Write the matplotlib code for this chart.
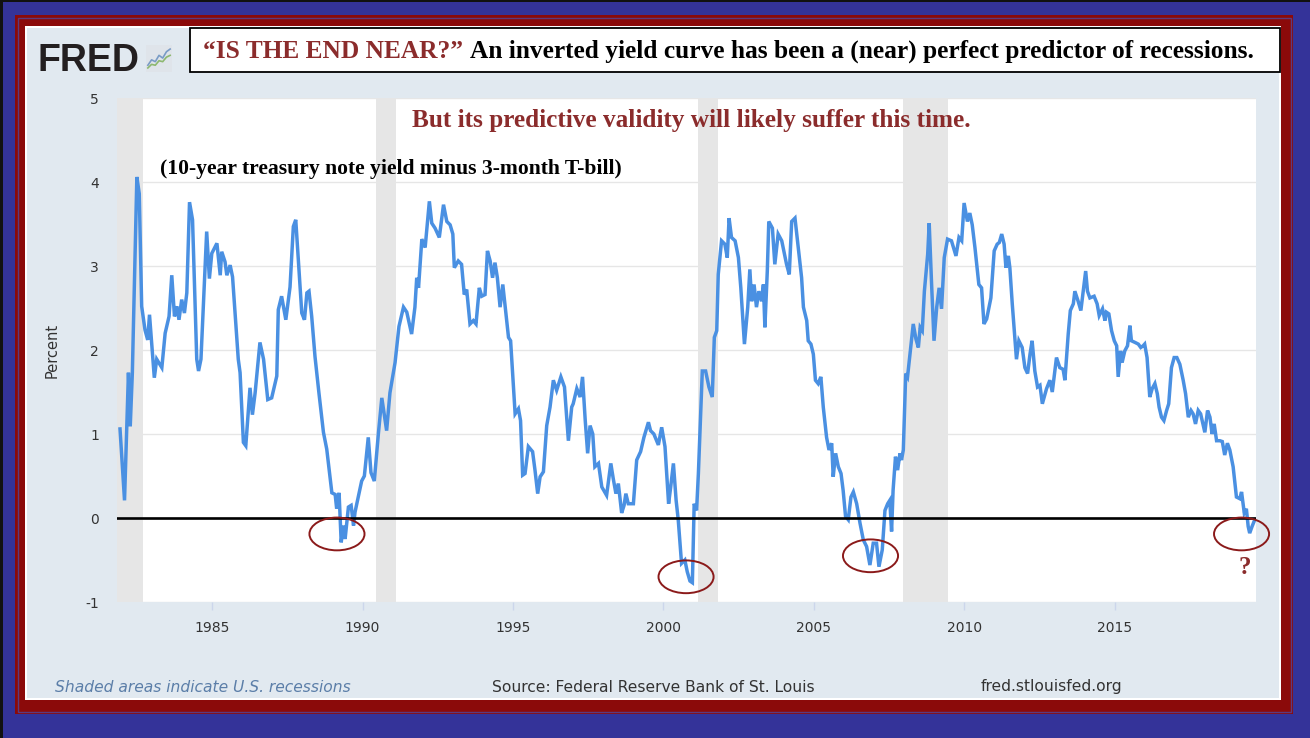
import matplotlib
matplotlib.use("Agg")
import matplotlib.pyplot as plt
from matplotlib.patches import Rectangle, Ellipse

# 10-year treasury minus 3-month T-bill (decimal year, percent)
dates = [
    1981.94, 1982.09, 1982.22, 1982.28, 1982.35, 1982.50, 1982.58, 1982.66, 1982.77, 1982.86,
    1982.92, 1983.08, 1983.16, 1983.33, 1983.44, 1983.57, 1983.66, 1983.75, 1983.83, 1983.90,
    1983.99, 1984.08, 1984.16, 1984.25, 1984.35, 1984.49, 1984.55, 1984.63, 1984.82, 1984.91,
    1984.99, 1985.16, 1985.27, 1985.32, 1985.43, 1985.49, 1985.60, 1985.68, 1985.87, 1985.93,
    1986.04, 1986.12, 1986.26, 1986.34, 1986.43, 1986.59, 1986.71, 1986.85, 1986.98, 1987.15,
    1987.20, 1987.31, 1987.45, 1987.59, 1987.70, 1987.78, 1987.83, 1987.98, 1988.07, 1988.15,
    1988.22, 1988.31, 1988.42, 1988.55, 1988.70, 1988.81, 1988.98, 1989.09, 1989.14, 1989.22,
    1989.29, 1989.36, 1989.42, 1989.53, 1989.62, 1989.70, 1989.75, 1989.97, 1990.06, 1990.19,
    1990.28, 1990.39, 1990.53, 1990.64, 1990.80, 1990.91, 1991.08, 1991.21,
    1991.36, 1991.47, 1991.63, 1991.74, 1991.80, 1991.86, 1991.97, 1992.08, 1992.22, 1992.30,
    1992.41, 1992.55, 1992.69, 1992.80, 1992.91, 1993.00, 1993.05, 1993.18, 1993.29, 1993.38,
    1993.46, 1993.57, 1993.68, 1993.77, 1993.88, 1993.96, 1994.07, 1994.15, 1994.24, 1994.32,
    1994.40, 1994.48, 1994.57, 1994.66, 1994.73, 1994.85, 1994.92, 1995.07, 1995.18, 1995.25,
    1995.32, 1995.40, 1995.51, 1995.65, 1995.73, 1995.82, 1995.90, 1996.01, 1996.12, 1996.23,
    1996.34, 1996.45, 1996.59, 1996.71, 1996.84, 1996.95, 1997.00, 1997.12, 1997.23, 1997.31,
    1997.40, 1997.48, 1997.56, 1997.65, 1997.72, 1997.84, 1997.95, 1998.11, 1998.25, 1998.33,
    1998.42, 1998.50, 1998.61, 1998.69, 1998.75, 1998.83, 1999.00, 1999.11, 1999.24, 1999.35,
    1999.50, 1999.57, 1999.68, 1999.83, 1999.94, 2000.05, 2000.17, 2000.24, 2000.33, 2000.42,
    2000.49, 2000.60, 2000.71, 2000.79, 2000.88,
    2000.96, 2001.02, 2001.10, 2001.16, 2001.29, 2001.40, 2001.51, 2001.62, 2001.69, 2001.77,
    2001.82, 2001.93, 2002.04, 2002.12, 2002.18, 2002.26, 2002.38, 2002.49, 2002.57, 2002.69,
    2002.80, 2002.87, 2002.93, 2003.01, 2003.09, 2003.17, 2003.26, 2003.32, 2003.37, 2003.45,
    2003.50, 2003.62, 2003.70, 2003.81, 2003.93, 2004.09, 2004.18, 2004.26, 2004.37, 2004.48,
    2004.59, 2004.65, 2004.76, 2004.81, 2004.90, 2004.98, 2005.05, 2005.14, 2005.23, 2005.31,
    2005.42, 2005.50, 2005.59, 2005.64, 2005.72, 2005.81, 2005.90, 2005.97, 2006.05, 2006.14,
    2006.23, 2006.31, 2006.42, 2006.53, 2006.64, 2006.75, 2006.86, 2006.97, 2007.08, 2007.16,
    2007.27, 2007.36, 2007.45, 2007.52, 2007.58, 2007.63, 2007.71, 2007.78, 2007.86, 2007.91,
    2007.97, 2008.05, 2008.11, 2008.24, 2008.30, 2008.39, 2008.47, 2008.53, 2008.60, 2008.67,
    2008.78, 2008.83, 2008.91, 2008.99, 2009.08, 2009.16, 2009.24, 2009.33, 2009.44, 2009.57,
    2009.72, 2009.82, 2009.91, 2009.99,
    2010.10, 2010.18, 2010.26, 2010.35, 2010.48, 2010.57, 2010.65, 2010.74, 2010.88, 2010.99,
    2011.09, 2011.16, 2011.24, 2011.32, 2011.38, 2011.46, 2011.51, 2011.59, 2011.73, 2011.81,
    2011.92, 2012.01, 2012.10, 2012.18, 2012.25, 2012.34, 2012.43, 2012.51, 2012.59, 2012.73,
    2012.84, 2012.92, 2013.06, 2013.17, 2013.28, 2013.34, 2013.45, 2013.52, 2013.62, 2013.67,
    2013.78, 2013.87, 2013.95, 2014.03, 2014.09, 2014.17, 2014.31, 2014.41, 2014.48, 2014.59,
    2014.67, 2014.72, 2014.80, 2014.89, 2014.98, 2015.06, 2015.11, 2015.19, 2015.24, 2015.33,
    2015.42, 2015.50, 2015.55, 2015.67, 2015.78, 2015.86, 2015.94, 2015.99, 2016.07, 2016.16,
    2016.24, 2016.33, 2016.41, 2016.47, 2016.55, 2016.63, 2016.72, 2016.79, 2016.88, 2016.97,
    2017.06, 2017.16, 2017.27, 2017.35, 2017.44, 2017.53, 2017.60, 2017.68, 2017.77, 2017.85,
    2017.90, 2017.99, 2018.08, 2018.16, 2018.23, 2018.30, 2018.38, 2018.49, 2018.57, 2018.65,
    2018.74, 2018.82, 2018.93, 2019.04, 2019.15, 2019.21, 2019.30, 2019.37, 2019.43, 2019.48,
    2019.56, 2019.65,
]
spread = [
    1.06, 0.21, 1.73, 1.09, 1.73, 4.06, 3.86, 2.52, 2.24, 2.12,
    2.42, 1.67, 1.89, 1.79, 2.20, 2.40, 2.89, 2.40, 2.52, 2.36,
    2.60, 2.44, 2.68, 3.76, 3.55, 1.89, 1.75, 1.89, 3.41, 2.85,
    3.15, 3.27, 2.89, 3.17, 3.05, 2.89, 3.01, 2.87, 1.89, 1.73,
    0.90, 0.86, 1.55, 1.23, 1.49, 2.09, 1.89, 1.41, 1.43, 1.69,
    2.48, 2.64, 2.36, 2.75, 3.47, 3.55, 3.27, 2.44, 2.36, 2.68,
    2.70, 2.40, 1.92, 1.49, 1.02, 0.82, 0.30, 0.28, 0.11, 0.30,
    -0.29, -0.09, -0.25, 0.13, 0.15, -0.09, 0.07, 0.44, 0.50, 0.96,
    0.54, 0.44, 1.02, 1.43, 1.04, 1.49, 1.85, 2.28,
    2.51, 2.45, 2.19, 2.51, 2.86, 2.74, 3.32, 3.22, 3.77, 3.51,
    3.45, 3.34, 3.73, 3.53, 3.49, 3.38, 2.98, 3.06, 3.02, 2.66,
    2.72, 2.31, 2.35, 2.31, 2.74, 2.64, 2.66, 3.18, 3.06, 2.86,
    3.04, 2.86, 2.51, 2.78, 2.55, 2.15, 2.11, 1.24, 1.30, 1.16,
    0.51, 0.53, 0.85, 0.79, 0.57, 0.29, 0.49, 0.55, 1.10, 1.32,
    1.64, 1.52, 1.68, 1.56, 0.92, 1.32, 1.36, 1.54, 1.44, 1.68,
    1.16, 0.77, 1.10, 1.00, 0.61, 0.65, 0.37, 0.27, 0.65, 0.47,
    0.29, 0.41, 0.06, 0.15, 0.29, 0.17, 0.17, 0.69, 0.79, 0.96,
    1.14, 1.04, 1.00, 0.87, 1.08, 0.85, 0.17, 0.37, 0.65, 0.21,
    -0.02, -0.54, -0.50, -0.64, -0.75,
    -0.77, 0.17, 0.09, 0.53, 1.75, 1.75, 1.56, 1.44, 2.15, 2.23,
    2.90, 3.30, 3.26, 3.10, 3.57, 3.34, 3.30, 3.10, 2.74, 2.07,
    2.51, 2.96, 2.58, 2.78, 2.51, 2.70, 2.58, 2.78, 2.27, 2.94,
    3.53, 3.45, 3.02, 3.38, 3.30, 3.02, 2.90, 3.53, 3.57, 3.22,
    2.86, 2.51, 2.35, 2.11, 2.07, 1.95, 1.64, 1.60, 1.68, 1.32,
    0.96, 0.81, 0.89, 0.49, 0.77, 0.61, 0.53, 0.33, 0.02, -0.02,
    0.25, 0.31, 0.17, -0.06, -0.26, -0.34, -0.56, -0.30, -0.30, -0.58,
    -0.38, 0.09, 0.17, 0.21, -0.16, 0.33, 0.73, 0.57, 0.77, 0.69,
    0.81, 1.72, 1.68, 2.11, 2.31, 2.13, 2.03, 2.27, 2.23, 2.70,
    3.14, 3.51, 2.78, 2.11, 2.51, 2.74, 2.49, 3.10, 3.32, 3.30,
    3.12, 3.34, 3.30, 3.75,
    3.53, 3.63, 3.49, 3.22, 2.78, 2.74, 2.31, 2.37, 2.62, 3.18,
    3.26, 3.28, 3.38, 3.26, 2.98, 3.12, 2.98, 2.55, 1.89, 2.11,
    2.03, 1.79, 1.72, 1.95, 2.11, 1.75, 1.56, 1.58, 1.36, 1.54,
    1.64, 1.50, 1.91, 1.79, 1.77, 1.64, 2.19, 2.47, 2.55, 2.70,
    2.58, 2.47, 2.70, 2.94, 2.70, 2.62, 2.64, 2.55, 2.41, 2.49,
    2.35, 2.45, 2.43, 2.23, 2.11, 2.05, 1.68, 1.99, 1.85, 1.99,
    2.05, 2.29, 2.11, 2.09, 2.07, 2.03, 2.05, 2.07, 1.91, 1.44,
    1.54, 1.60, 1.48, 1.32, 1.20, 1.16, 1.28, 1.36, 1.79, 1.91,
    1.91, 1.83, 1.64, 1.48, 1.20, 1.28, 1.24, 1.12, 1.28, 1.24,
    1.16, 1.02, 1.28, 1.20, 1.00, 1.12, 0.92, 0.92, 0.91, 0.75,
    0.89, 0.81, 0.61, 0.25, 0.23, 0.31, 0.06, 0.11, -0.10, -0.18,
    -0.10, -0.02,
]

rec_start = [1981.50, 1990.45, 2001.15, 2007.96]
rec_end = [1982.72, 1991.10, 2001.81, 2009.45]

# inversion episodes circled on the chart (centre year, centre value)
circle_x = [1989.15, 2000.75, 2006.88, 2019.21]
circle_y = [-0.19, -0.70, -0.45, -0.19]

xticks = [1985, 1990, 1995, 2000, 2005, 2010, 2015]
yticks = [-1, 0, 1, 2, 3, 4, 5]

logo_x = [0, 1, 2, 3, 4, 5, 6]
logo_blue = [1.0, 2.2, 1.8, 3.2, 2.6, 4.0, 4.6]
logo_green = [0.4, 1.2, 1.0, 2.0, 1.8, 2.8, 3.2]

W, H = 1310, 738
fx = lambda x: x / W
fy = lambda y: 1 - y / H

DARKRED = "#8b2c2c"
LIGHT = "#e1e9f0"
SERIF = "Liberation Serif"

fig = plt.figure(figsize=(W / 100, H / 100), dpi=100)
fig.patch.set_facecolor("#343399")


def frect(x0, y0, x1, y1, **kw):
    r = Rectangle((fx(x0), fy(y1)), (x1 - x0) / W, (y1 - y0) / H,
                  transform=fig.transFigure, **kw)
    fig.add_artist(r)
    return r


# outer frame
frect(0, 0, 3, H, facecolor="#111111", edgecolor="none", zorder=-10)
frect(0, 0, W, 2, facecolor="#111111", edgecolor="none", zorder=-10)
frect(15, 15, 1293, 714, facecolor="#8b0a0a", edgecolor="none", zorder=-9)
frect(17.5, 17.5, 1290.5, 711.5, facecolor="none", edgecolor="#5c3a7e", lw=1.0, zorder=-8)
frect(25, 26, 1281, 700, facecolor="white", edgecolor="none", zorder=-7)
frect(27, 28, 1279, 698, facecolor=LIGHT, edgecolor="none", zorder=-6)

# main plot
ax = fig.add_axes([fx(117), fy(602), (1256 - 117) / W, (602 - 98) / H])
ax.set_facecolor("white")
for s0, s1 in zip(rec_start, rec_end):
    ax.axvspan(s0, s1, color="#e6e6e6", lw=0, zorder=0)
ax.plot(dates, spread, color="#4a90e2", lw=2.5, zorder=3, solid_joinstyle="miter")
ax.axhline(0, color="black", lw=1.9, zorder=4)

ax.set_xlim(1981.84, 2019.69)
ax.set_ylim(-1, 5)
ax.set_xticks(xticks)
ax.set_xticklabels([str(t) for t in xticks])
ax.set_yticks(yticks)
ax.set_yticklabels([str(t) for t in yticks])
ax.grid(axis="y", color="#e6e6e6", lw=1, zorder=1)
ax.set_axisbelow(True)
for s in ax.spines.values():
    s.set_visible(False)
ax.tick_params(axis="x", length=6, width=1, color="#ccd6eb", pad=8,
               labelsize=10, labelcolor="#333333")
ax.tick_params(axis="y", length=0, pad=13, labelsize=10, labelcolor="#333333")

for cx, cy in zip(circle_x, circle_y):
    ax.add_patch(Ellipse((cx, cy), 1.83, 0.39, fill=False, edgecolor="#8b1a1a",
                         lw=1.4, clip_on=False, zorder=6))

fig.text(fx(52), fy(350), "Percent", rotation=90, ha="center", va="center",
         fontsize=10.5, color="#333333")

# annotations
fig.text(fx(691), fy(121), "But its predictive validity will likely suffer this time.",
         ha="center", va="center", fontsize=18.2, fontweight="bold", color=DARKRED,
         family=SERIF)
fig.text(fx(160), fy(169), "(10-year treasury note yield minus 3-month T-bill)",
         ha="left", va="center", fontsize=15.6, fontweight="bold", color="black",
         family=SERIF)
fig.text(fx(1245), fy(567), "?", ha="center", va="center", fontsize=18,
         fontweight="bold", color=DARKRED, family=SERIF)

# title box
frect(190, 28, 1280, 72, facecolor="white", edgecolor="black", lw=1.3, zorder=5)
fig.text(fx(203), fy(51), "\u201cIS THE END NEAR?\u201d", ha="left", va="center",
         fontsize=18.3, fontweight="bold", color=DARKRED, family=SERIF, zorder=6)
fig.text(fx(470), fy(51),
         "An inverted yield curve has been a (near) perfect predictor of recessions.",
         ha="left", va="center", fontsize=18.3, fontweight="bold", color="black",
         family=SERIF, zorder=6)

# FRED logo
fig.text(fx(38), fy(71), "FRED", ha="left", va="baseline", fontsize=27,
         fontweight="bold", color="#231f20", family="Liberation Sans")
lax = fig.add_axes([fx(146), fy(72), 26 / W, 27 / H])
lax.set_facecolor("#dfe4ea")
lax.plot(logo_x, logo_blue, color="#7a9cc6", lw=1.2)
lax.plot(logo_x, logo_green, color="#8db870", lw=1.2)
lax.set_xlim(-0.5, 6.5)
lax.set_ylim(-0.5, 5.5)
lax.set_xticks([])
lax.set_yticks([])
for s in lax.spines.values():
    s.set_visible(False)

# footer
fig.text(fx(55), fy(687), "Shaded areas indicate U.S. recessions", ha="left",
         va="center", fontsize=11.2, style="italic", color="#5b7ea8")
fig.text(fx(492), fy(687), "Source: Federal Reserve Bank of St. Louis", ha="left",
         va="center", fontsize=11.2, color="#333333")
fig.text(fx(981), fy(687), "fred.stlouisfed.org", ha="left", va="center",
         fontsize=11.2, color="#333333")

fig.savefig("out.png", dpi=100, facecolor=fig.get_facecolor())
